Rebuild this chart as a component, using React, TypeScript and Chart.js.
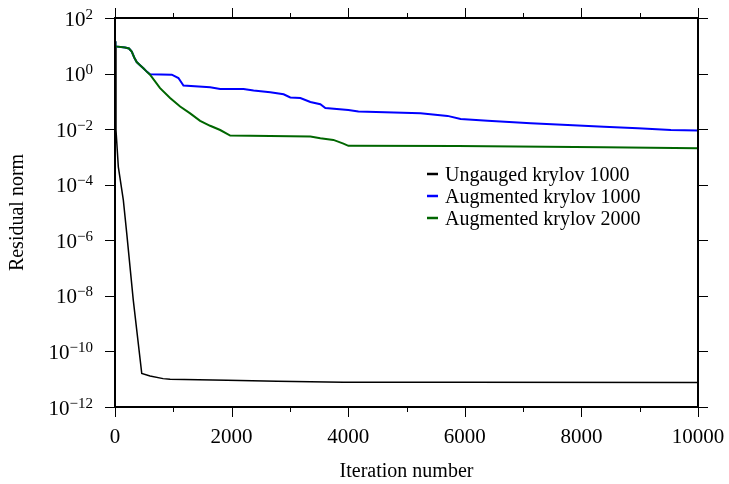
import React, { useEffect, useRef } from 'react';
import { Chart, registerables } from 'chart.js';

Chart.register(...registerables);

// ---- data ----
const ungaugedIter = [0, 17, 57, 143, 201, 314, 459, 601, 825, 945, 1924, 2783, 3917, 5962, 10000];
const ungaugedResidual = [10, 9.3e-3, 4.4e-4, 2.8e-5, 1.8e-6, 6.9e-9, 1.6e-11, 1.3e-11, 1.05e-11, 1.0e-11, 9.1e-12, 8.5e-12, 7.8e-12, 7.7e-12, 7.6e-12];

const aug1000Iter = [0, 8, 172, 240, 287, 330, 372, 430, 487, 540, 601, 974, 1088, 1174, 1632, 1804, 2205, 2377, 2663, 2892, 3007, 3179, 3351, 3522, 3608, 4003, 4175, 5240, 5704, 5928, 6392, 7131, 7766, 8385, 8969, 9536, 10000];
const aug1000Residual = [14.5, 9.5, 8.7, 8.0, 6.2, 3.8, 2.6, 2.0, 1.55, 1.2, 0.95, 0.91, 0.69, 0.37, 0.32, 0.28, 0.28, 0.245, 0.214, 0.18, 0.138, 0.132, 0.095, 0.079, 0.058, 0.049, 0.043, 0.037, 0.030, 0.023, 0.020, 0.0162, 0.0141, 0.0123, 0.0107, 0.0093, 0.0089];

const aug2000Iter = [0, 8, 172, 240, 287, 330, 372, 430, 487, 540, 601, 773, 945, 1117, 1289, 1460, 1632, 1804, 1976, 3007, 3351, 3522, 3746, 3918, 4003, 5876, 8385, 10000];
const aug2000Residual = [14.5, 9.5, 8.7, 8.0, 6.2, 3.8, 2.6, 2.0, 1.55, 1.2, 0.91, 0.30, 0.132, 0.065, 0.037, 0.020, 0.0132, 0.0093, 0.0059, 0.0056, 0.0054, 0.0047, 0.0041, 0.0030, 0.0025, 0.00245, 0.00224, 0.00204];

const seriesLabels = ['Ungauged krylov 1000', 'Augmented krylov 1000', 'Augmented krylov 2000'];
const seriesColors = ['#000000', '#0000ff', '#006600'];
const seriesWidths = [1.5, 2, 2];

const xMin = 0;
const xMax = 10000;
const xLabelStep = 2000;
const xTickStep = 1000;
const yExponents = [2, 0, -2, -4, -6, -8, -10, -12];

const xTitle = 'Iteration number';
const yTitle = 'Residual norm';

const SERIF = '"Liberation Serif", "Times New Roman", serif';

const toPoints = (xs: number[], ys: number[]) => xs.map((x, i) => ({ x, y: ys[i] }));

const decorPlugin = {
  id: 'decor',
  afterDatasetsDraw(chart: any) {
    const { ctx, chartArea: a, scales } = chart;
    const xs = scales.x;
    const ys = scales.y;
    ctx.save();
    // tick marks
    ctx.strokeStyle = '#000';
    ctx.lineWidth = 1;
    ctx.beginPath();
    for (let v = xMin; v <= xMax; v += xTickStep) {
      const px = Math.round(xs.getPixelForValue(v)) + 0.5;
      const len = v % xLabelStep === 0 ? 10 : 5;
      ctx.moveTo(px, a.bottom);
      ctx.lineTo(px, a.bottom + len);
      ctx.moveTo(px, a.top);
      ctx.lineTo(px, a.top - len);
    }
    for (const e of yExponents) {
      const py = Math.round(ys.getPixelForValue(Math.pow(10, e))) + 0.5;
      ctx.moveTo(a.left - 10, py);
      ctx.lineTo(a.left, py);
      ctx.moveTo(a.right, py);
      ctx.lineTo(a.right + 10, py);
    }
    ctx.stroke();
    // frame
    ctx.lineWidth = 2;
    ctx.strokeRect(a.left, a.top, a.right - a.left, a.bottom - a.top);

    // y tick labels with superscripts
    ctx.fillStyle = '#000';
    ctx.textBaseline = 'alphabetic';
    ctx.textAlign = 'right';
    const rightEdge = a.left - 22;
    for (const e of yExponents) {
      const py = ys.getPixelForValue(Math.pow(10, e));
      const expText = e < 0 ? '\u2212' + String(-e) : String(e);
      ctx.font = `15px ${SERIF}`;
      const ew = ctx.measureText(expText).width;
      ctx.fillText(expText, rightEdge, py + 0.5);
      ctx.font = `21px ${SERIF}`;
      ctx.fillText('10', rightEdge - ew, py + 7.5);
    }

    // legend
    ctx.textAlign = 'left';
    ctx.font = `20px ${SERIF}`;
    const lx = a.left + 312;
    const ly = a.top + 156;
    seriesLabels.forEach((label, i) => {
      const y = ly + i * 22;
      ctx.strokeStyle = seriesColors[i];
      ctx.lineWidth = 2.5;
      ctx.beginPath();
      ctx.moveTo(lx, y);
      ctx.lineTo(lx + 11, y);
      ctx.stroke();
      ctx.fillStyle = '#000';
      ctx.fillText(label, lx + 18, y + 6.7);
    });
    ctx.restore();
  },
};

export default function App() {
  const canvasRef = useRef<HTMLCanvasElement | null>(null);

  useEffect(() => {
    const canvas = canvasRef.current;
    if (!canvas) return;
    const series = [
      toPoints(ungaugedIter, ungaugedResidual),
      toPoints(aug1000Iter, aug1000Residual),
      toPoints(aug2000Iter, aug2000Residual),
    ];
    const chart = new Chart(canvas, {
      type: 'line',
      data: {
        datasets: series.map((data, i) => ({
          label: seriesLabels[i],
          data,
          borderColor: seriesColors[i],
          backgroundColor: seriesColors[i],
          borderWidth: seriesWidths[i],
          pointRadius: 0,
          tension: 0,
          fill: false,
          order: 2 - i,
        })),
      },
      options: {
        animation: false,
        responsive: false,
        maintainAspectRatio: false,
        layout: { padding: { top: 18, right: 31, left: 0, bottom: 0 } },
        plugins: {
          legend: { display: false },
          tooltip: { enabled: false },
        },
        scales: {
          x: {
            type: 'linear',
            min: xMin,
            max: xMax,
            grid: { display: false, drawTicks: false },
            border: { display: false },
            ticks: {
              stepSize: xLabelStep,
              color: '#000',
              font: { family: SERIF, size: 21 },
              padding: 18,
              maxRotation: 0,
              callback: (v: any) => String(v),
            },
            title: {
              display: true,
              text: xTitle,
              color: '#000',
              font: { family: SERIF, size: 20 },
              padding: { top: 4, bottom: 0 },
            },
            afterFit: (s: any) => {
              s.height = 77;
              s.paddingLeft = 0;
              s.paddingRight = 0;
            },
          },
          y: {
            type: 'logarithmic',
            min: Math.pow(10, yExponents[yExponents.length - 1]),
            max: Math.pow(10, yExponents[0]),
            grid: { display: false, drawTicks: false },
            border: { display: false },
            ticks: { display: false },
            afterBuildTicks: (s: any) => {
              s.ticks = yExponents.map((e) => ({ value: Math.pow(10, e) }));
            },
            title: {
              display: true,
              text: yTitle,
              color: '#000',
              font: { family: SERIF, size: 20 },
              padding: { top: 6, bottom: 4 },
            },
            afterFit: (s: any) => {
              s.width = 115;
              s.paddingTop = 0;
              s.paddingBottom = 0;
            },
          },
        },
      },
      plugins: [decorPlugin],
    });
    return () => chart.destroy();
  }, []);

  return (
    <div style={{ position: 'absolute', left: 0, top: 0, width: 729, height: 484, background: '#fff' }}>
      <canvas ref={canvasRef} width={729} height={484} />
    </div>
  );
}
